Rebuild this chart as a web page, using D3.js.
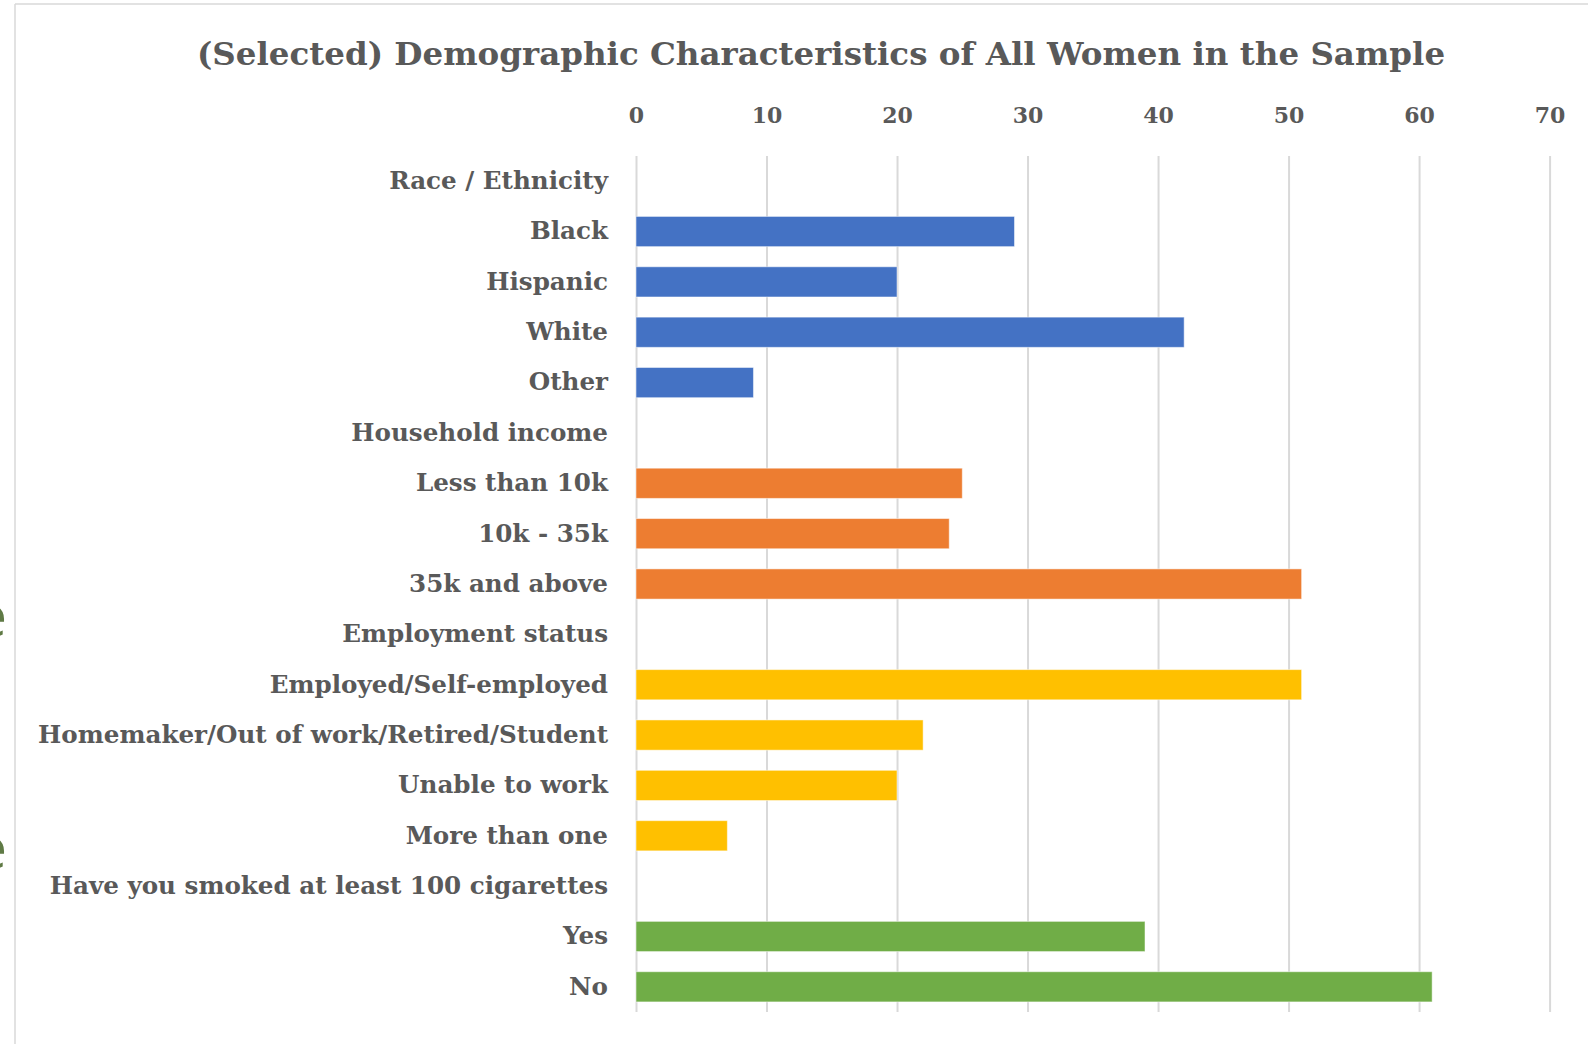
<!DOCTYPE html>
<html lang="en">
<head>
    <meta charset="UTF-8">
    <title>d3</title>
    <script src="https://cdn.jsdelivr.net/npm/d3@7"></script>
    <style>
        body{margin:0;background:#fff;}
        text{font-family:"DejaVu Serif",serif;font-weight:bold;fill:#595959;}
    </style>
</head>
<body>
    <script>
             var width=1588;
             var height=1044;
             // rows, top to bottom
             var categories=["Race / Ethnicity","Black","Hispanic","White","Other",
                 "Household income","Less than 10k","10k - 35k","35k and above",
                 "Employment status","Employed/Self-employed","Homemaker/Out of work/Retired/Student","Unable to work","More than one",
                 "Have you smoked at least 100 cigarettes","Yes","No"];
             var values=[null,29,20,42,9,null,25,24,51,null,51,22,20,7,null,39,61];
             var groups=["race","race","race","race","race","income","income","income","income",
                 "work","work","work","work","work","smoke","smoke","smoke"];
             var groupNames=["race","income","work","smoke"];
             var groupColors=["#4472c4","#ed7d31","#ffc000","#70ad47"];
             var xTicks=[0,10,20,30,40,50,60,70];
             var title="(Selected) Demographic Characteristics of All Women in the Sample";

             var plot={left:636,right:1549.6,top:156,bottom:1012};

             var svg=d3.select("body").append("svg").attr("width",width).attr("height",height);

             // frame of the chart area
             svg.append("line").attr("x1",15).attr("x2",width).attr("y1",4).attr("y2",4)
                     .attr("stroke","#d9d9d9").attr("stroke-width",1.5);
             svg.append("line").attr("x1",15).attr("x2",15).attr("y1",4).attr("y2",height)
                     .attr("stroke","#d9d9d9").attr("stroke-width",1.5);

             // bits of the slide text behind the chart (cut by the page edge, as in the source)
             svg.selectAll(".behind").data([636,868]).enter().append("text")
                     .attr("class","behind")
                     .attr("x",7).attr("y",function(d){return d;})
                     .attr("text-anchor","end")
                     .style("font-family","'Open Sans',sans-serif").style("font-weight","normal")
                     .style("fill","#5f7a45").style("font-size","56px")
                     .text("e");

             var color=d3.scaleOrdinal().domain(groupNames).range(groupColors);
             var xScale=d3.scaleLinear().domain([0,70]).range([plot.left,plot.right]);
             var yScale=d3.scaleBand().domain(categories).range([plot.top,plot.bottom])
                     .paddingInner(0.4).paddingOuter(0.2);

             //x 轴: 网格线 + 顶部刻度
             var xAxis=d3.axisTop(xScale).tickValues(xTicks).tickSize(-(plot.bottom-plot.top)).tickPadding(33);
             var gx=svg.append("g")
                     .attr("transform","translate(0,"+plot.top+")")
                     .call(xAxis);
             gx.select(".domain").remove();
             gx.selectAll(".tick line").attr("stroke","#d9d9d9").attr("stroke-width",2);
             gx.selectAll(".tick text").style("font-size","22px").attr("fill","#595959");

             //y 轴
             var yAxis=d3.axisLeft(yScale).tickSize(0).tickPadding(28);
             var gy=svg.append("g")
                     .attr("transform","translate("+plot.left+",0)")
                     .call(yAxis);
             gy.select(".domain").remove();
             gy.selectAll(".tick text").style("font-size","24.6px").attr("fill","#595959");

             //填充数据.
             var rows=categories.map(function(c,i){return {cat:c,value:values[i],group:groups[i]};})
                     .filter(function(d){return d.value!=null;});
             svg.selectAll("rect.bar")
                     .data(rows)
                     .enter()
                     .append("rect")
                     .attr("class","bar")
                     .attr("x",xScale(0))
                     .attr("y",function(d){return yScale(d.cat);})
                     .attr("width",function(d){return xScale(d.value)-xScale(0);})
                     .attr("height",yScale.bandwidth())
                     .attr("fill",function(d){return color(d.group);})
                     .attr("stroke","#ffffff").attr("stroke-opacity",0.5).attr("stroke-width",1);

             svg.append("text")
                     .attr("x",821).attr("y",65)
                     .attr("text-anchor","middle")
                     .style("font-size","32.5px")
                     .text(title);
    </script>
</body>
</html>
